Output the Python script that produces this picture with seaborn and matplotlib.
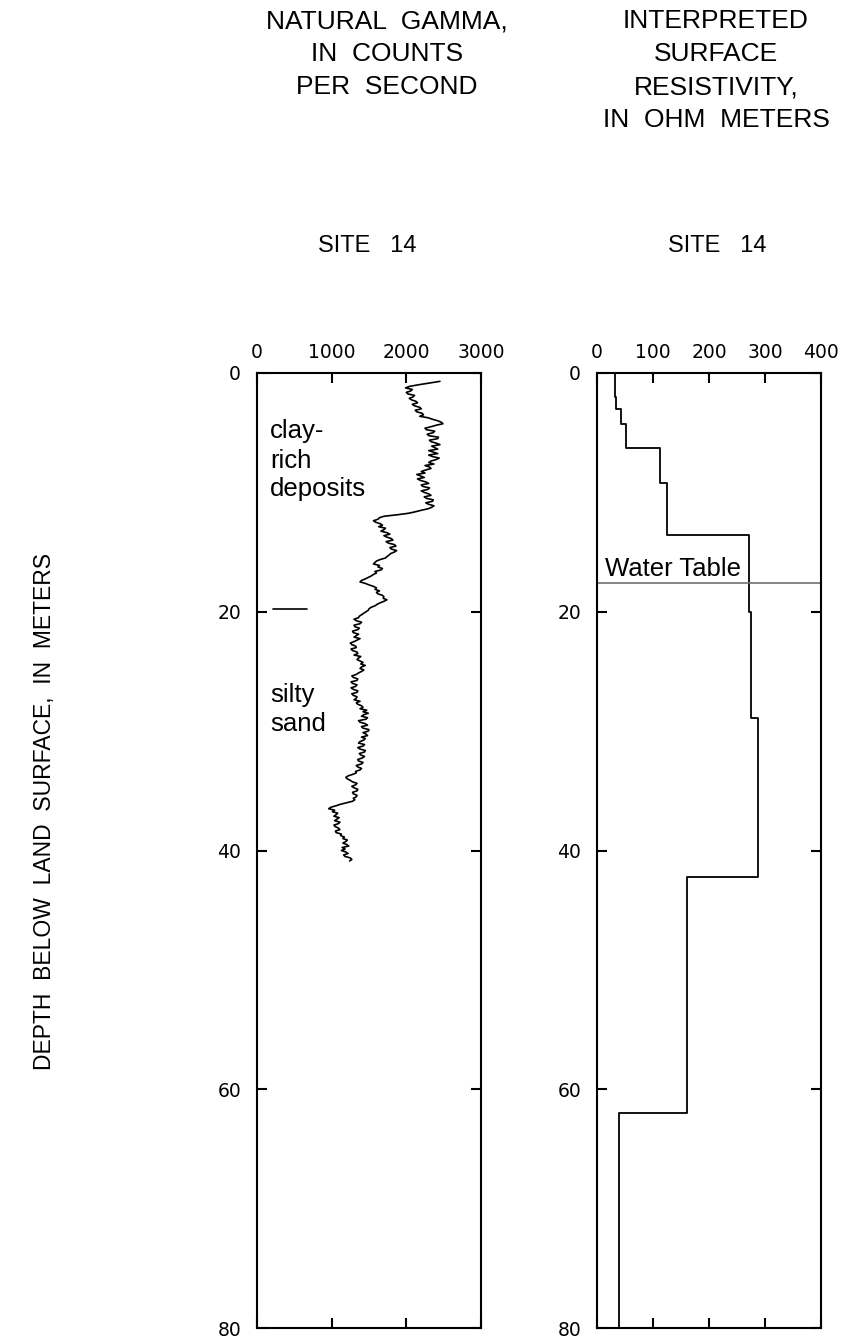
import numpy as np
import pandas as pd
import matplotlib
matplotlib.use("Agg")
import matplotlib.pyplot as plt
import seaborn as sns

# ---------------- data ----------------
GAMMA_DEPTH = [
    0.7, 1.0, 1.125, 1.25, 1.375, 1.5, 1.625, 1.75, 1.875,
    2.0, 2.125, 2.25, 2.375, 2.5, 2.625, 2.75, 2.875,
    3.0, 3.125, 3.25, 3.375, 3.5, 3.625, 3.75, 3.875,
    4.0, 4.125, 4.25, 4.375, 4.5, 4.625, 4.75, 4.875,
    5.0, 5.125, 5.25, 5.375, 5.5, 5.625, 5.75, 5.875,
    6.0, 6.125, 6.25, 6.375, 6.5, 6.625, 6.75, 6.875,
    7.0, 7.125, 7.25, 7.375, 7.5, 7.625, 7.75, 7.875,
    8.0, 8.125, 8.25, 8.375, 8.5, 8.625, 8.75, 8.875,
    9.0, 9.125, 9.25, 9.375, 9.5, 9.625, 9.75, 9.875,
    10.0, 10.125, 10.25, 10.375, 10.5, 10.625, 10.75, 10.875,
    11.0, 11.125, 11.25, 11.375, 11.5, 11.625, 11.75, 11.875,
    12.0, 12.125, 12.25, 12.375, 12.5, 12.625, 12.75, 12.875,
    13.0, 13.125, 13.25, 13.375, 13.5, 13.625, 13.75, 13.875,
    14.0, 14.125, 14.25, 14.375, 14.5, 14.625, 14.75, 14.875,
    15.0, 15.125, 15.25, 15.375, 15.5, 15.625, 15.75, 15.875,
    16.0, 16.125, 16.25, 16.375, 16.5, 16.625, 16.75, 16.875,
    17.0, 17.125, 17.25, 17.375, 17.5, 17.625, 17.75, 17.875,
    18.0, 18.125, 18.25, 18.375, 18.5, 18.625, 18.75, 18.875,
    19.0, 19.125, 19.25, 19.375, 19.5, 19.625, 19.75, 19.875,
    20.0, 20.125, 20.25, 20.375, 20.5, 20.625, 20.75, 20.875,
    21.0, 21.125, 21.25, 21.375, 21.5, 21.625, 21.75, 21.875,
    22.0, 22.125, 22.25, 22.375, 22.5, 22.625, 22.75, 22.875,
    23.0, 23.125, 23.25, 23.375, 23.5, 23.625, 23.75, 23.875,
    24.0, 24.125, 24.25, 24.375, 24.5, 24.625, 24.75, 24.875,
    25.0, 25.125, 25.25, 25.375, 25.5, 25.625, 25.75, 25.875,
    26.0, 26.125, 26.25, 26.375, 26.5, 26.625, 26.75, 26.875,
    27.0, 27.125, 27.25, 27.375, 27.5, 27.625, 27.75, 27.875,
    28.0, 28.125, 28.25, 28.375, 28.5, 28.625, 28.75, 28.875,
    29.0, 29.125, 29.25, 29.375, 29.5, 29.625, 29.75, 29.875,
    30.0, 30.125, 30.25, 30.375, 30.5, 30.625, 30.75, 30.875,
    31.0, 31.125, 31.25, 31.375, 31.5, 31.625, 31.75, 31.875,
    32.0, 32.125, 32.25, 32.375, 32.5, 32.625, 32.75, 32.875,
    33.0, 33.125, 33.25, 33.375, 33.5, 33.625, 33.75, 33.875,
    34.0, 34.125, 34.25, 34.375, 34.5, 34.625, 34.75, 34.875,
    35.0, 35.125, 35.25, 35.375, 35.5, 35.625, 35.75, 35.875,
    36.0, 36.125, 36.25, 36.375, 36.5, 36.625, 36.75, 36.875,
    37.0, 37.125, 37.25, 37.375, 37.5, 37.625, 37.75, 37.875,
    38.0, 38.125, 38.25, 38.375, 38.5, 38.625, 38.75, 38.875,
    39.0, 39.125, 39.25, 39.375, 39.5, 39.625, 39.75, 39.875,
    40.0, 40.125, 40.25, 40.375, 40.5, 40.625, 40.75, 40.875,
]
GAMMA_CPS = [
    2450, 2150, 2040, 1990, 2080, 2060, 2000, 2020, 2110,
    2090, 2040, 2070, 2130, 2150, 2080, 2110, 2180,
    2200, 2120, 2140, 2210, 2230, 2180, 2290, 2350,
    2420, 2470, 2490, 2400, 2330, 2250, 2270, 2380,
    2360, 2280, 2300, 2430, 2420, 2310, 2330, 2400,
    2450, 2340, 2380, 2420, 2300, 2360, 2420, 2300,
    2350, 2440, 2400, 2330, 2300, 2370, 2250, 2310,
    2330, 2260, 2200, 2250, 2140, 2190, 2240, 2150,
    2190, 2260, 2300, 2200, 2220, 2310, 2290, 2200,
    2240, 2300, 2330, 2240, 2270, 2360, 2350, 2260,
    2300, 2370, 2340, 2290, 2200, 2120, 2030, 1880,
    1700, 1640, 1620, 1560, 1590, 1650, 1680, 1630,
    1720, 1700, 1660, 1740, 1780, 1700, 1740, 1800,
    1820, 1730, 1760, 1840, 1860, 1780, 1800, 1870,
    1840, 1790, 1770, 1740, 1720, 1650, 1600, 1580,
    1560, 1640, 1620, 1680, 1660, 1580, 1600, 1560,
    1530, 1490, 1450, 1400, 1380, 1450, 1500, 1560,
    1600, 1580, 1640, 1600, 1620, 1680, 1700, 1690,
    1740, 1700, 1650, 1610, 1580, 1530, 1500, 1490,
    1460, 1430, 1400, 1370, 1360, 1300, 1330, 1400,
    1380, 1300, 1310, 1370, 1350, 1280, 1290, 1360,
    1330, 1300, 1380, 1340, 1300, 1250, 1270, 1320,
    1330, 1260, 1280, 1340, 1350, 1300, 1390, 1360,
    1340, 1380, 1420, 1390, 1450, 1400, 1380, 1430,
    1400, 1360, 1330, 1270, 1290, 1350, 1340, 1260,
    1280, 1340, 1320, 1260, 1290, 1350, 1340, 1270,
    1290, 1340, 1330, 1300, 1380, 1330, 1350, 1400,
    1420, 1380, 1470, 1420, 1490, 1430, 1400, 1480,
    1460, 1360, 1380, 1450, 1480, 1400, 1420, 1500,
    1490, 1420, 1460, 1480, 1400, 1450, 1430, 1380,
    1360, 1440, 1420, 1350, 1380, 1450, 1440, 1370,
    1390, 1440, 1410, 1350, 1360, 1420, 1400, 1330,
    1350, 1400, 1380, 1320, 1330, 1280, 1220, 1190,
    1210, 1250, 1280, 1340, 1320, 1270, 1300, 1350,
    1340, 1280, 1290, 1340, 1330, 1290, 1310, 1280,
    1200, 1120, 1060, 990, 960, 1040, 1010, 1080,
    1060, 1030, 1100, 1070, 1040, 1110, 1090, 1030,
    1050, 1090, 1110, 1050, 1060, 1130, 1120, 1170,
    1150, 1210, 1190, 1150, 1200, 1230, 1140, 1180,
    1130, 1190, 1220, 1160, 1180, 1250, 1270, 1240,
]

SPIKE_CPS = [215, 665]
SPIKE_DEPTH = [19.8, 19.8]

RES_TOP = [0.0, 2.0, 3.0, 4.3, 6.3, 9.2, 13.6, 20.0, 28.9, 42.2, 62.0]
RES_BOTTOM = [2.0, 3.0, 4.3, 6.3, 9.2, 13.6, 20.0, 28.9, 42.2, 62.0, 80.0]
RES_OHM = [32, 34, 43, 52, 112, 125, 272, 275, 288, 160, 39]

WATER_TABLE_DEPTH = 17.6

GAMMA_TICKS = [0, 1000, 2000, 3000]
RES_TICKS = [0, 100, 200, 300, 400]
DEPTH_TICKS = [0, 20, 40, 60, 80]

GAMMA_TITLE = ["NATURAL  GAMMA,", "IN  COUNTS", "PER  SECOND"]
RES_TITLE = ["INTERPRETED", "SURFACE", "RESISTIVITY,", "IN  OHM  METERS"]
SITE_LABEL = "SITE   14"
DEPTH_LABEL = "DEPTH  BELOW  LAND  SURFACE,  IN  METERS"

# ---------------- style ----------------
sns.set_theme(style="white")
plt.rcParams["font.family"] = ["Liberation Sans", "DejaVu Sans"]

W, H = 844, 1342
fig = plt.figure(figsize=(W / 100, H / 100), dpi=100)
fig.patch.set_facecolor("white")


def fx(px):
    return px / W


def fy(py):
    return 1 - py / H


ax_left = [257, 597]
ax_w = 224
ax_top, ax_bot = 373, 1328

axes = []
for xl in ax_left:
    ax = fig.add_axes([fx(xl), fy(ax_bot), ax_w / W, (ax_bot - ax_top) / H])
    axes.append(ax)
ax1, ax2 = axes

# gamma log
sns.lineplot(x=GAMMA_CPS, y=GAMMA_DEPTH, sort=False, estimator=None,
             color="black", linewidth=1.2, ax=ax1)
sns.lineplot(x=SPIKE_CPS, y=SPIKE_DEPTH, sort=False, estimator=None,
             color="black", linewidth=1.2, ax=ax1)

# resistivity layers as a step profile
res_x, res_y = [], []
for t, b, v in zip(RES_TOP, RES_BOTTOM, RES_OHM):
    res_x += [v, v]
    res_y += [t, b]
sns.lineplot(x=res_x, y=res_y, sort=False, estimator=None,
             color="black", linewidth=1.3, ax=ax2)
ax2.axhline(WATER_TABLE_DEPTH, color="#707070", linewidth=1.2)

for ax, xmax, xt in [(ax1, 3000, GAMMA_TICKS), (ax2, 400, RES_TICKS)]:
    ax.set_xlim(0, xmax)
    ax.set_ylim(80, 0)
    ax.set_xticks(xt)
    ax.set_yticks(DEPTH_TICKS)
    ax.set_xlabel("")
    ax.set_ylabel("")
    ax.xaxis.set_ticks_position("both")
    ax.yaxis.set_ticks_position("both")
    ax.tick_params(axis="x", which="both", direction="in", length=7, width=1.5,
                   top=True, bottom=True, labeltop=True, labelbottom=False,
                   pad=7.6, labelsize=13.5, colors="black")
    ax.tick_params(axis="y", which="both", direction="in", length=7, width=1.5,
                   left=True, right=True, labelleft=True, labelright=False,
                   pad=11.5, labelsize=13.5, colors="black")
    for lab in ax.get_xticklabels() + ax.get_yticklabels():
        lab.set_fontfamily("DejaVu Sans")
    for s in ax.spines.values():
        s.set_visible(True)
        s.set_color("black")
        s.set_linewidth(1.5)
    ax.grid(False)
    ax.set_facecolor("white")

# annotations
ann_kw = dict(fontsize=18.5, color="black", ha="left", va="baseline")
ax1.text(174, 5.44, "clay-", **ann_kw)
ax1.text(174, 7.96, "rich", **ann_kw)
ax1.text(174, 10.3, "deposits", **ann_kw)
ax1.text(174, 27.55, "silty", **ann_kw)
ax1.text(174, 29.96, "sand", **ann_kw)
ax2.text(14, 17.0, "Water Table", **ann_kw)

# titles
title_kw = dict(fontsize=19, color="black", ha="center", va="baseline")
for line, py in zip(GAMMA_TITLE, [28, 61, 94]):
    fig.text(fx(387), fy(py), line, **title_kw)
for line, py in zip(RES_TITLE, [28, 61, 94, 127]):
    fig.text(fx(716), fy(py), line, **title_kw)

site_kw = dict(fontsize=17, color="black", ha="center", va="baseline")
fig.text(fx(367), fy(252), SITE_LABEL, **site_kw)
fig.text(fx(717), fy(252), SITE_LABEL, **site_kw)

fig.text(fx(45), fy(812), DEPTH_LABEL, rotation=90, ha="center", va="center",
         fontsize=16.5, color="black")

fig.savefig("out.png", dpi=100, facecolor="white")
